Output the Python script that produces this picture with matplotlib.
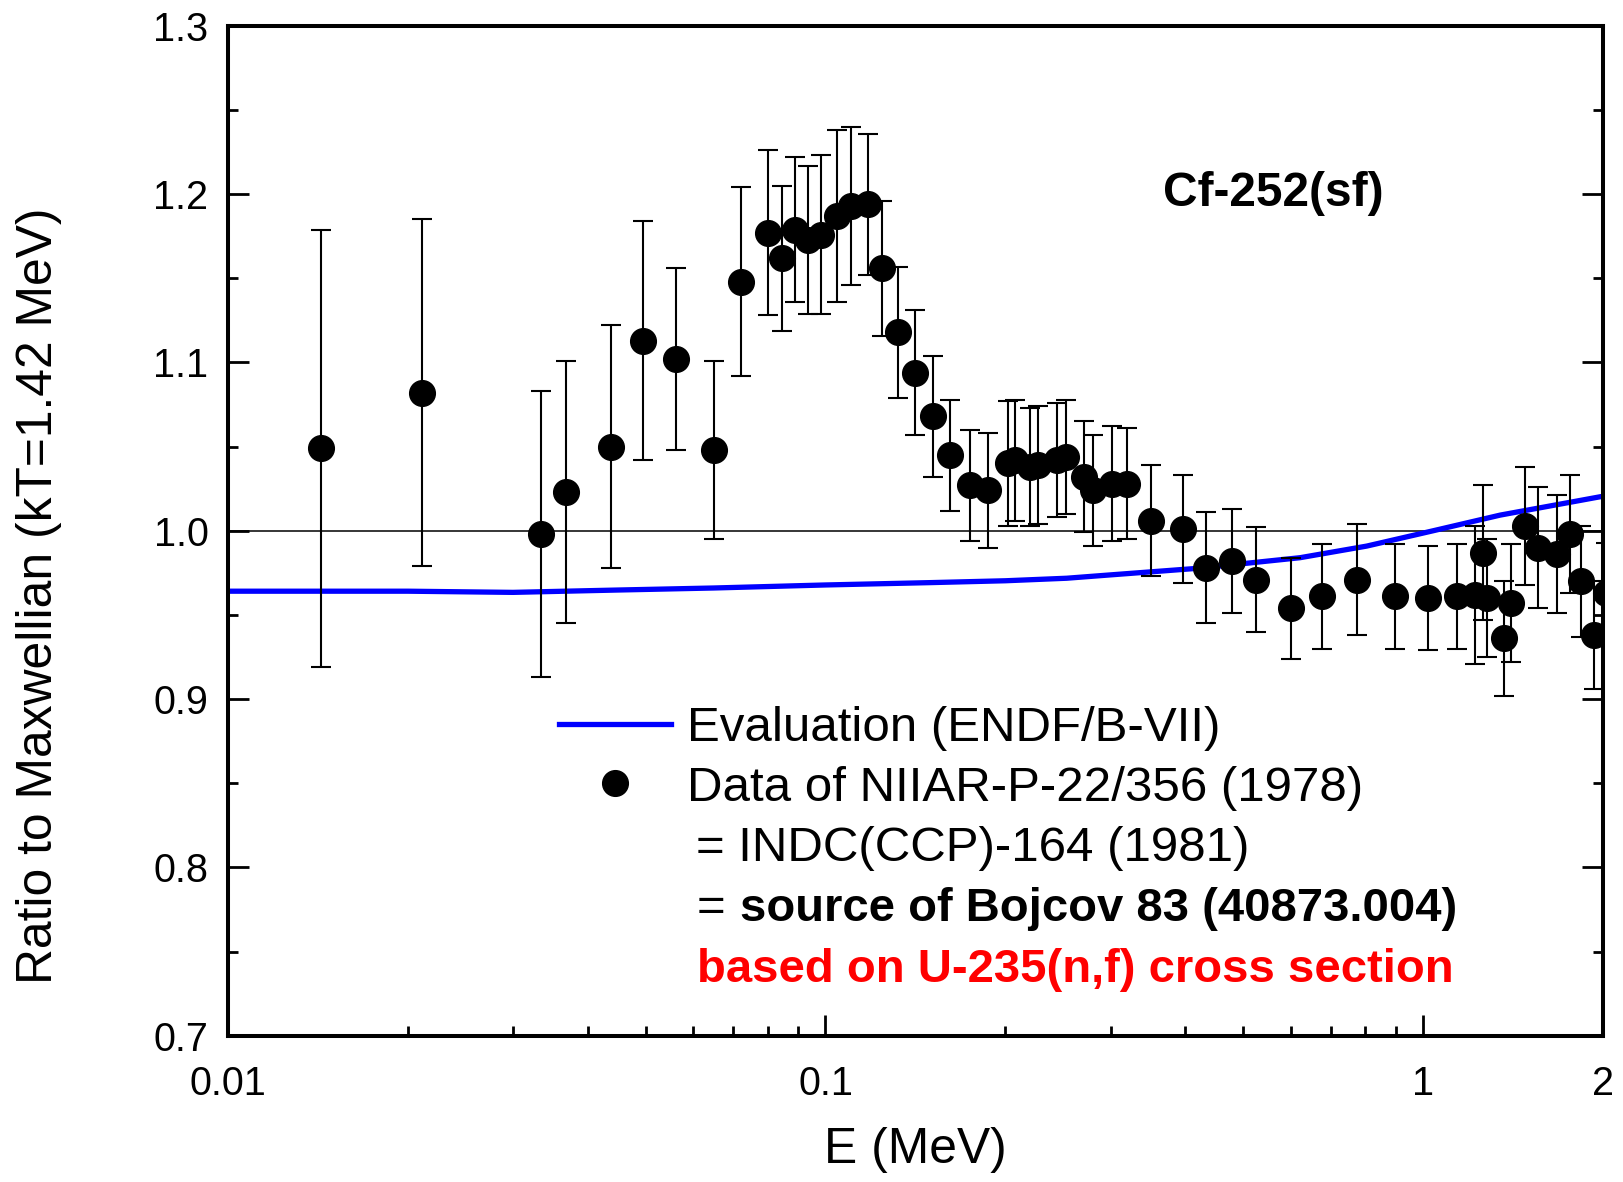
import numpy as np
import matplotlib
matplotlib.use("Agg")
import matplotlib.pyplot as plt
from matplotlib.ticker import FixedLocator, NullFormatter, MultipleLocator

plt.rcParams['font.family'] = ['Liberation Sans', 'DejaVu Sans']

# NIIAR-P-22/356 data, ratio to Maxwellian
E_data = [0.0143, 0.0211, 0.0334, 0.0368, 0.0438, 0.0496, 0.0562, 0.0651, 0.0723, 0.0802,
          0.0845, 0.0888, 0.0936, 0.0984, 0.1044, 0.1103, 0.1177, 0.1245, 0.1324, 0.1412,
          0.1515, 0.1618, 0.1745, 0.1868, 0.2023, 0.2076, 0.2199, 0.2265, 0.2443, 0.2526,
          0.2707, 0.2807, 0.3019, 0.3199, 0.3510, 0.3969, 0.4327, 0.4796, 0.5246, 0.6018,
          0.6767, 0.7761, 0.8985, 1.020, 1.141, 1.222, 1.258, 1.281, 1.364, 1.403,
          1.479, 1.555, 1.673, 1.763, 1.838, 1.934, 2.02]
ratio = [1.049, 1.082, 0.998, 1.023, 1.050, 1.113, 1.102, 1.048, 1.148, 1.177,
         1.162, 1.179, 1.173, 1.176, 1.187, 1.193, 1.194, 1.156, 1.118, 1.094,
         1.068, 1.045, 1.027, 1.024, 1.040, 1.042, 1.038, 1.039, 1.042, 1.044,
         1.032, 1.024, 1.028, 1.028, 1.006, 1.001, 0.978, 0.982, 0.971, 0.954,
         0.961, 0.971, 0.961, 0.960, 0.961, 0.962, 0.987, 0.960, 0.936, 0.957,
         1.003, 0.990, 0.986, 0.998, 0.970, 0.938, 0.963]
ratio_err = [0.130, 0.103, 0.085, 0.078, 0.072, 0.071, 0.054, 0.053, 0.056, 0.049,
             0.043, 0.043, 0.044, 0.047, 0.051, 0.047, 0.042, 0.040, 0.039, 0.037,
             0.036, 0.033, 0.033, 0.034, 0.037, 0.036, 0.035, 0.035, 0.034, 0.034,
             0.033, 0.033, 0.034, 0.033, 0.033, 0.032, 0.033, 0.031, 0.031, 0.030,
             0.031, 0.033, 0.031, 0.031, 0.031, 0.041, 0.040, 0.035, 0.034, 0.035,
             0.035, 0.036, 0.035, 0.035, 0.033, 0.032, 0.030]

# ENDF/B-VII evaluation
E_eval = [0.01, 0.02, 0.03, 0.045, 0.065, 0.1, 0.15, 0.2, 0.2532, 0.3,
          0.4233, 0.6223, 0.8045, 1.039, 1.345, 1.977, 2.0]
ratio_eval = [0.9641, 0.9641, 0.9634, 0.9648, 0.9660, 0.9678, 0.9692, 0.9703, 0.9718, 0.9738,
              0.9778, 0.9840, 0.9909, 1.0000, 1.0093, 1.0202, 1.0205]

fig = plt.figure(figsize=(16.24, 11.82), dpi=100)
ax = fig.add_axes([0.1403, 0.1238, 0.8468, 0.8543])

ax.axhline(1.0, color='black', lw=1.1, zorder=1)
ax.plot(E_eval, ratio_eval, color='#0000ff', lw=3.8, zorder=2,
        label='Evaluation (ENDF/B-VII)')
ax.errorbar(E_data, ratio, yerr=ratio_err, fmt='none', ecolor='black',
            elinewidth=1.5, capsize=7.5, capthick=1.5, zorder=3)
ax.plot(E_data, ratio, 'o', color='black', ms=18.5, zorder=4, ls='none',
        label='Data of NIIAR-P-22/356 (1978)')

ax.set_xscale('log')
ax.set_xlim(0.01, 2)
ax.set_ylim(0.7, 1.3)

ax.xaxis.set_major_locator(FixedLocator([0.01, 0.1, 1, 2]))
ax.set_xticklabels(['0.01', '0.1', '1', '2'])
ax.xaxis.set_minor_locator(FixedLocator([0.02, 0.03, 0.04, 0.05, 0.06, 0.07, 0.08, 0.09,
                                         0.2, 0.3, 0.4, 0.5, 0.6, 0.7, 0.8, 0.9]))
ax.xaxis.set_minor_formatter(NullFormatter())
ax.yaxis.set_major_locator(MultipleLocator(0.1))
ax.yaxis.set_minor_locator(MultipleLocator(0.05))
ax.set_yticklabels([f'{v:.1f}' for v in ax.get_yticks()])

ax.tick_params(which='both', direction='in', top=False, right=True, labelsize=28.5)
ax.tick_params(axis='x', which='both', pad=21)
ax.tick_params(axis='y', which='both', pad=14)
ax.tick_params(which='major', length=15, width=2)
ax.tick_params(which='minor', length=7.5, width=2)
for s in ax.spines.values():
    s.set_linewidth(2.9)

ax.set_xlabel('E (MeV)', fontsize=35.8, va='center')
ax.xaxis.set_label_coords(0.5, -0.113)
ax.set_ylabel('Ratio to Maxwellian (kT=1.42 MeV)', fontsize=35.8, va='center')
ax.yaxis.set_label_coords(-0.1375, 0.436)

ax.text(0.76, 0.834, 'Cf-252(sf)', transform=ax.transAxes, fontsize=34.5,
        fontweight='bold', ha='center', va='center')

ax.legend(loc='center left', bbox_to_anchor=(0.241, 0.2745), frameon=False,
          fontsize=35.5, handlelength=2.27, handletextpad=0.32, labelspacing=0.29,
          borderaxespad=0, borderpad=0)

ax.text(0.3406, 0.1851, '= INDC(CCP)-164 (1981)', transform=ax.transAxes,
        fontsize=35.5, va='center', ha='left')
ax.text(0.3406, 0.1257, '=', transform=ax.transAxes, fontsize=35.5, va='center', ha='left')
ax.text(0.3723, 0.1257, 'source of Bojcov 83 (40873.004)', transform=ax.transAxes,
        fontsize=34, fontweight='bold', va='center', ha='left')
ax.text(0.3413, 0.0651, 'based on U-235(n,f) cross section', transform=ax.transAxes,
        fontsize=34, fontweight='bold', color='#ff0000', va='center', ha='left')

fig.savefig('out.png', dpi=100)
